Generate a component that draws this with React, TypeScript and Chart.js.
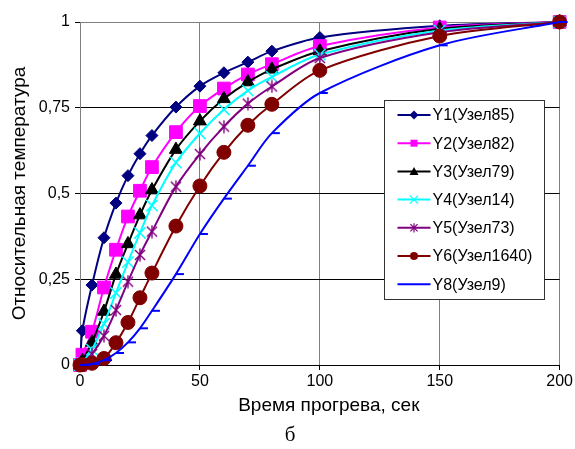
import React, { useEffect, useRef } from 'react';
import { Chart, registerables } from 'chart.js';

Chart.register(...registerables);

// ---- data ----
const timeSec = [0, 1, 5, 10, 15, 20, 25, 30, 40, 50, 60, 70, 80, 100, 150, 200];
const y1Node85 = [0, 0.1, 0.233, 0.371, 0.472, 0.552, 0.616, 0.669, 0.752, 0.813, 0.852, 0.883, 0.915, 0.955, 0.989, 1];
const y2Node82 = [0, 0.03, 0.097, 0.226, 0.336, 0.433, 0.508, 0.577, 0.679, 0.755, 0.806, 0.847, 0.877, 0.93, 0.984, 1];
const y3Node79 = [0, 0.012, 0.066, 0.156, 0.264, 0.353, 0.437, 0.51, 0.628, 0.711, 0.776, 0.825, 0.862, 0.915, 0.98, 1];
const y4Node14 = [0, 0.006, 0.045, 0.12, 0.21, 0.3, 0.385, 0.465, 0.59, 0.675, 0.745, 0.8, 0.84, 0.905, 0.975, 1];
const y5Node73 = [0, 0.004, 0.032, 0.085, 0.16, 0.243, 0.321, 0.389, 0.52, 0.615, 0.695, 0.762, 0.812, 0.895, 0.97, 1];
const y6Node1640 = [0, 0.001, 0.005, 0.019, 0.065, 0.124, 0.196, 0.268, 0.405, 0.522, 0.62, 0.699, 0.76, 0.859, 0.959, 1];
const y8Node9 = [0, 0, 0.003, 0.014, 0.035, 0.066, 0.107, 0.158, 0.265, 0.382, 0.485, 0.581, 0.676, 0.793, 0.932, 1];

const seriesNames = ['Y1(Узел85)', 'Y2(Узел82)', 'Y3(Узел79)', 'Y4(Узел14)', 'Y5(Узел73)', 'Y6(Узел1640)', 'Y8(Узел9)'];
const xTickValues = [0, 50, 100, 150, 200];
const yTickValues = [0, 0.25, 0.5, 0.75, 1];
const yTickLabels = ['0', '0,25', '0,5', '0,75', '1'];
const xTitle = 'Время прогрева, сек';
const yTitle = 'Относительная температура';
const caption = 'б';

const FONT = '"Liberation Sans", Arial, sans-serif';

function makeAsterisk(color: string, size: number, lw: number) {
  const c = document.createElement('canvas');
  c.width = size;
  c.height = size;
  const ctx = c.getContext('2d')!;
  ctx.strokeStyle = color;
  ctx.lineWidth = lw;
  const m = size / 2;
  const r = size / 2 - 0.5;
  const d = r * 0.78;
  ctx.beginPath();
  ctx.moveTo(m, m - r);
  ctx.lineTo(m, m + r);
  ctx.moveTo(m - d, m - d);
  ctx.lineTo(m + d, m + d);
  ctx.moveTo(m + d, m - d);
  ctx.lineTo(m - d, m + d);
  ctx.stroke();
  return c;
}

type MarkerKind = 'diamond' | 'square' | 'triangle' | 'x' | 'star' | 'circle' | 'dash';

function drawLegendMarker(ctx: CanvasRenderingContext2D, kind: MarkerKind, x: number, y: number, color: string) {
  ctx.save();
  ctx.fillStyle = color;
  ctx.strokeStyle = color;
  ctx.lineWidth = 1.2;
  ctx.beginPath();
  if (kind === 'diamond') {
    const r = 4.5;
    ctx.moveTo(x, y - r); ctx.lineTo(x + r, y); ctx.lineTo(x, y + r); ctx.lineTo(x - r, y); ctx.closePath();
    ctx.fill();
  } else if (kind === 'square') {
    const h = 3.5;
    ctx.rect(x - h, y - h, 2 * h, 2 * h);
    ctx.fill();
  } else if (kind === 'triangle') {
    ctx.moveTo(x, y - 4.5); ctx.lineTo(x + 4.5, y + 3.5); ctx.lineTo(x - 4.5, y + 3.5); ctx.closePath();
    ctx.fill();
  } else if (kind === 'x') {
    const d = 4;
    ctx.moveTo(x - d, y - d); ctx.lineTo(x + d, y + d);
    ctx.moveTo(x + d, y - d); ctx.lineTo(x - d, y + d);
    ctx.stroke();
  } else if (kind === 'star') {
    const d = 3.6;
    ctx.moveTo(x, y - 4.6); ctx.lineTo(x, y + 4.6);
    ctx.moveTo(x - d, y - d); ctx.lineTo(x + d, y + d);
    ctx.moveTo(x + d, y - d); ctx.lineTo(x - d, y + d);
    ctx.stroke();
  } else if (kind === 'circle') {
    ctx.arc(x, y, 4, 0, Math.PI * 2);
    ctx.fill();
  }
  ctx.restore();
}

const seriesColors = ['#000080', '#FF00FF', '#000000', '#00FFFF', '#800080', '#800000', '#0000FF'];
const legendKinds: MarkerKind[] = ['diamond', 'square', 'triangle', 'x', 'star', 'circle', 'dash'];

const boxLegend = {
  id: 'boxLegend',
  afterDraw(chart: any) {
    const ctx: CanvasRenderingContext2D = chart.ctx;
    const area = chart.chartArea;
    const bx = Math.round(area.left + 304) + 0.5;
    const by = Math.round(area.top + 78) + 0.5;
    const bw = 160;
    const bh = 199;
    ctx.save();
    ctx.fillStyle = '#ffffff';
    ctx.fillRect(bx, by, bw, bh);
    ctx.strokeStyle = '#333333';
    ctx.lineWidth = 1;
    ctx.strokeRect(bx, by, bw, bh);
    ctx.font = `16px ${FONT}`;
    ctx.textBaseline = 'middle';
    ctx.textAlign = 'left';
    seriesNames.forEach((name, i) => {
      const cy = by + 14.5 + i * 28.2;
      const color = seriesColors[i];
      ctx.strokeStyle = color;
      ctx.lineWidth = 2;
      ctx.beginPath();
      ctx.moveTo(bx + 13, cy);
      ctx.lineTo(bx + 46, cy);
      ctx.stroke();
      drawLegendMarker(ctx, legendKinds[i], bx + 29.5, cy, color);
      ctx.fillStyle = '#000000';
      ctx.fillText(name, bx + 48, cy + 1);
    });
    ctx.restore();
  },
};

// x-axis title, centred slightly right of the plot centre as in the original
const xAxisTitle = {
  id: 'xAxisTitle',
  afterDraw(chart: any) {
    const ctx: CanvasRenderingContext2D = chart.ctx;
    const area = chart.chartArea;
    ctx.save();
    ctx.font = `19px ${FONT}`;
    ctx.fillStyle = '#000';
    ctx.textAlign = 'center';
    ctx.textBaseline = 'middle';
    ctx.fillText(xTitle, (area.left + area.right) / 2 + 9, area.bottom + 41);
    ctx.restore();
  },
};

export default function App() {
  const ref = useRef<HTMLCanvasElement | null>(null);

  useEffect(() => {
    document.body.style.margin = '0';
    const canvas = ref.current;
    if (!canvas) return;
    const asterisk = makeAsterisk('#800080', 14, 1.4);
    const values = [y1Node85, y2Node82, y3Node79, y4Node14, y5Node73, y6Node1640, y8Node9];
    const styles: any[] = ['rectRot', 'rect', 'triangle', 'crossRot', asterisk, 'circle', 'dash'];
    const radii = [6, 9, 7.5, 8, 7, 7, 8];
    const pbw = [1, 1, 1, 1.5, 1, 1, 2];

    const datasets = seriesNames.map((name, i) => ({
      label: name,
      data: timeSec.map((t, k) => ({ x: t, y: values[i][k] })),
      borderColor: seriesColors[i],
      backgroundColor: seriesColors[i],
      borderWidth: 2,
      pointStyle: styles[i],
      pointRadius: radii[i],
      pointBorderWidth: pbw[i],
      pointBackgroundColor: seriesColors[i],
      pointBorderColor: seriesColors[i],
      tension: 0.3,
      clip: false as any,
      order: seriesNames.length - i,
    }));

    const chart = new Chart(canvas, {
      type: 'line',
      data: { datasets },
      plugins: [boxLegend, xAxisTitle],
      options: {
        responsive: false,
        animation: false,
        devicePixelRatio: 1,
        layout: { padding: { left: 0, right: 15, top: 22, bottom: 32 } },
        plugins: {
          legend: { display: false },
          tooltip: { enabled: false },
        },
        scales: {
          x: {
            type: 'linear',
            min: 0,
            max: 200,
            afterBuildTicks: (scale: any) => {
              scale.ticks = xTickValues.map((v) => ({ value: v }));
            },
            afterFit: (scale: any) => {
              scale.height = 52;
            },
            ticks: {
              font: { family: FONT, size: 16 },
              color: '#000',
              padding: 2,
              maxRotation: 0,
              callback: (v: any) => String(v),
            },
            grid: {
              color: '#808080',
              lineWidth: 1,
              tickColor: '#000',
              tickLength: 5,
              drawTicks: true,
            },
            border: { color: '#000', width: 1 },
            title: { display: false, text: xTitle },
          },
          y: {
            type: 'linear',
            min: 0,
            max: 1,
            afterBuildTicks: (scale: any) => {
              scale.ticks = yTickValues.map((v) => ({ value: v }));
            },
            afterFit: (scale: any) => {
              scale.width = 80;
            },
            ticks: {
              font: { family: FONT, size: 16 },
              color: '#000',
              padding: 5,
              callback: (v: any) => {
                const idx = yTickValues.indexOf(Number(v));
                return idx >= 0 ? yTickLabels[idx] : '';
              },
            },
            grid: {
              color: (c: any) => (c.tick && c.tick.value === 1 ? '#808080' : '#000000'),
              lineWidth: 1,
              tickColor: '#000',
              tickLength: 5,
            },
            border: { color: '#808080', width: 1 },
            title: {
              display: true,
              text: yTitle,
              color: '#000',
              font: { family: FONT, size: 19 },
              padding: { top: 8, bottom: 0 },
            },
          },
        },
      } as any,
    });
    return () => chart.destroy();
  }, []);

  return (
    <div style={{ position: 'relative', width: 575, height: 449, background: '#fff' }}>
      <canvas ref={ref} width={575} height={449} style={{ display: 'block', width: 575, height: 449 }} />
      <div
        style={{
          position: 'absolute',
          left: 0,
          width: 580,
          top: 422,
          textAlign: 'center',
          fontFamily: '"Liberation Serif", "Times New Roman", serif',
          fontSize: 21,
          lineHeight: '24px',
          color: '#000',
        }}
      >
        {caption}
      </div>
    </div>
  );
}
